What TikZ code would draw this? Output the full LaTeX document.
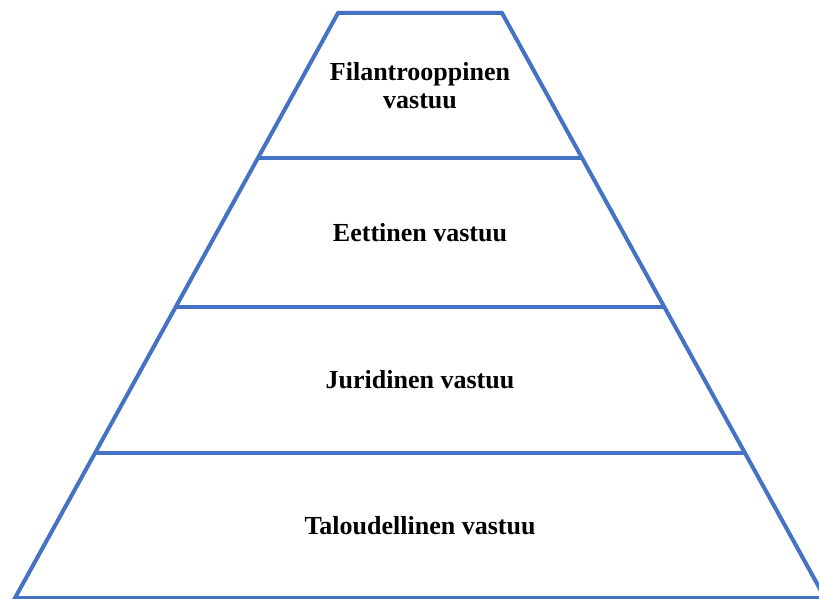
\documentclass[tikz,border=0pt]{standalone}
\usepackage{fontspec}
\setmainfont{Liberation Serif}
\usetikzlibrary{calc}
\definecolor{pyrblue}{HTML}{4472C4}
\begin{document}
\begin{tikzpicture}[x=1pt,y=-1pt,
  edge/.style={draw=pyrblue,line width=4pt,line join=miter},
  lbl/.style={font=\fontsize{26}{28}\selectfont\bfseries,align=center,text=black}]
\useasboundingbox (0,0) rectangle (819,599);
\begin{scope}
\clip (0,0) rectangle (819,599);
\coordinate (tl) at (338,13);
\coordinate (tr) at (502,13);
\coordinate (bl) at (15,598);
\coordinate (br) at (825,598);
\draw[edge] (bl) -- (tl) -- (tr) -- (br) -- cycle;
\coordinate (l1) at ($(tl)!0.2479!(bl)$);
\coordinate (r1) at ($(tr)!0.2479!(br)$);
\coordinate (l2) at ($(tl)!0.5026!(bl)$);
\coordinate (r2) at ($(tr)!0.5026!(br)$);
\coordinate (l3) at ($(tl)!0.7521!(bl)$);
\coordinate (r3) at ($(tr)!0.7521!(br)$);
\draw[edge] (l1) -- (r1);
\draw[edge] (l2) -- (r2);
\draw[edge] (l3) -- (r3);
\end{scope}
\node[lbl] (n1) at (420,86) {Filantrooppinen\\vastuu};
\node[lbl] (n2) at (420,233) {Eettinen vastuu};
\node[lbl] (n3) at (420,380) {Juridinen vastuu};
\node[lbl] (n4) at (420,526) {Taloudellinen vastuu};
\end{tikzpicture}
\end{document}
